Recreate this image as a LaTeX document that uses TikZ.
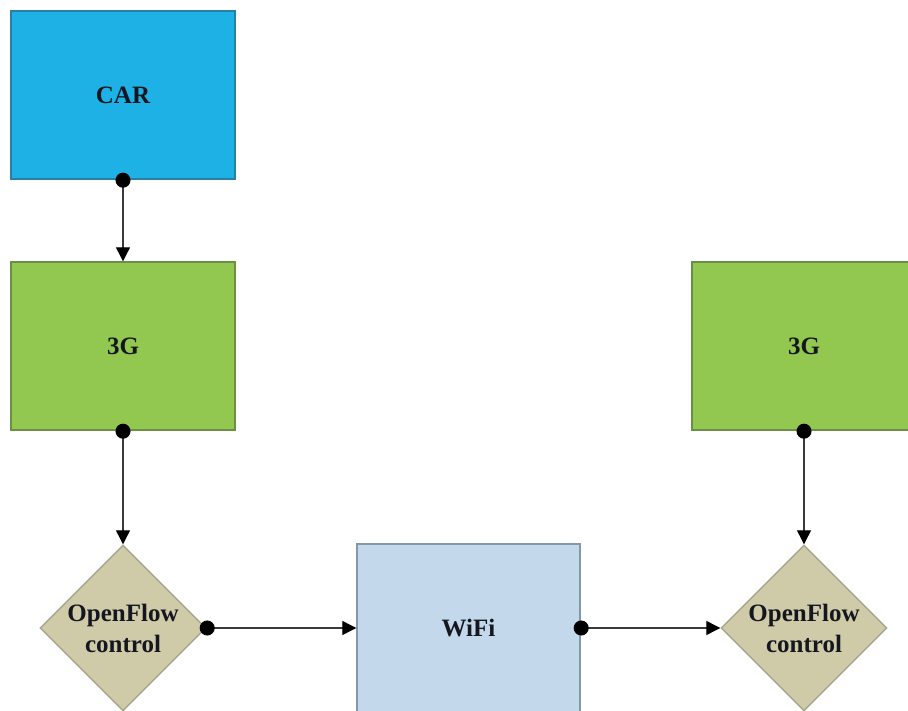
\documentclass[tikz,border=0pt]{standalone}
\usepackage{fontspec}
\setmainfont{Liberation Serif}
\usetikzlibrary{shapes.geometric,arrows.meta}
\definecolor{carfill}{HTML}{1DB1E6}
\definecolor{carline}{HTML}{2A7FA6}
\definecolor{gfill}{HTML}{93C850}
\definecolor{gline}{HTML}{6B8F45}
\definecolor{ofill}{HTML}{CFCAA8}
\definecolor{oline}{HTML}{A8A68E}
\definecolor{wfill}{HTML}{C4D8EC}
\definecolor{wline}{HTML}{8597AA}
\definecolor{wire}{HTML}{3A3A3A}
\definecolor{ink}{HTML}{15171F}
\tikzset{
  x=1pt, y=-1pt,
  lbl/.style={font=\bfseries\fontsize{25}{31}\selectfont, text=ink},
  box/.style={lbl, draw, line width=1.4pt, minimum width=224pt, minimum height=168pt, inner sep=0pt},
  carbox/.style={box, fill=carfill, draw=carline},
  gbox/.style={box, fill=gfill, draw=gline},
  wbox/.style={box, fill=wfill, draw=wline, minimum width=223pt},
  ctrl/.style={lbl, diamond, aspect=1, draw=oline, fill=ofill, line width=1.4pt,
    minimum width=166pt, minimum height=166pt, inner sep=0pt, align=center},
  link/.style={draw=wire, line width=1.2pt, shorten <=-7pt,
    {Circle[length=15pt,width=15pt,color=black]}-{Triangle[length=14pt,width=14pt,color=black]}},
}
\begin{document}
\begin{tikzpicture}
\useasboundingbox (0,0) rectangle (908,711);
\clip (0,0) rectangle (908,711);
\fill[white] (0,0) rectangle (908,711);
% blocks
\node[carbox] (car) at (123,95) {CAR};
\node[gbox] (gl) at (123,346) {3G};
\node[gbox] (gr) at (804,346) {3G};
\node[ctrl] (cl) at (123,628) {OpenFlow\\control};
\node[wbox] (wifi) at (468.5,628) {WiFi};
\node[ctrl] (cr) at (804,628) {OpenFlow\\control};
% connectors
\draw[link] (car.south) -- (gl.north);
\draw[link] (gl.south) -- (cl.north);
\draw[link] (cl.east) -- (wifi.west);
\draw[link] (wifi.east) -- (cr.west);
\draw[link] (gr.south) -- (cr.north);
\end{tikzpicture}
\end{document}
